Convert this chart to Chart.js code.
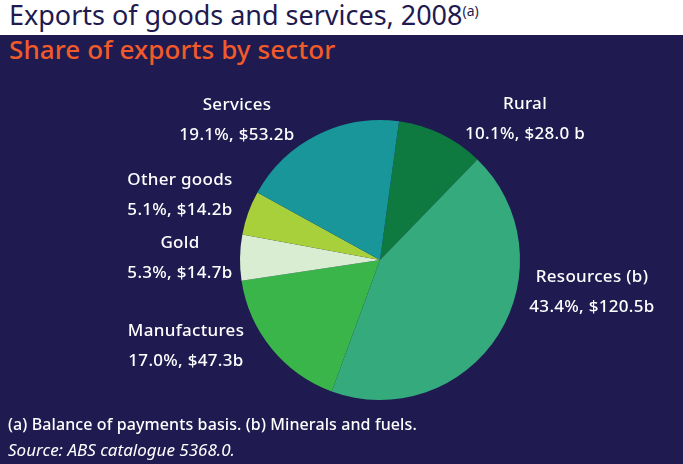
<!DOCTYPE html>
<html>
<head>
<meta charset="utf-8">
<script src="https://cdn.jsdelivr.net/npm/chart.js@4"></script>
<style>
  html, body { margin: 0; padding: 0; }
  body { width: 683px; height: 464px; overflow: hidden; background: #1f1a50; position: relative; font-family: "Noto Sans", sans-serif; }
  #band { position: absolute; left: 0; top: 0; width: 683px; height: 35px; background: #fff; }
  #title { position: absolute; left: 9px; top: -3px; font-size: 27px; line-height: 36px; letter-spacing: -0.02px; color: #1f1a50; white-space: nowrap; }
  #title sup { font-size: 14px; line-height: 0; position: relative; top: 1px; vertical-align: super; letter-spacing: 0; }
  #subtitle { position: absolute; left: 9px; top: 31px; font-size: 26px; line-height: 36px; font-weight: 500; letter-spacing: 0.1px; color: #f15a29; white-space: nowrap; }
  #wrap { position: absolute; left: 0; top: 0; width: 683px; height: 464px; }
  .lbl { position: absolute; width: 200px; margin-left: -100px; text-align: center; color: #fff; font-size: 17px; font-weight: 500; letter-spacing: 0.3px; line-height: 30px; white-space: nowrap; }
  #note { position: absolute; left: 8px; top: 412px; color: #fff; font-size: 16px; font-weight: 500; letter-spacing: 0.1px; line-height: 25px; white-space: nowrap; }
  #note i { display: block; font-size: 17px; font-weight: 400; letter-spacing: 0; }
</style>
</head>
<body>
<div id="band"></div>
<div id="title">Exports of goods and services, 2008<sup>(a)</sup></div>
<div id="subtitle">Share of exports by sector</div>
<div id="wrap"><canvas id="pie" width="683" height="464"></canvas></div>
<div id="labels"></div>
<div id="note">(a) Balance of payments basis. (b) Minerals and fuels.<i>Source: ABS catalogue 5368.0.</i></div>
<script>
// 数据
const categories = ['Rural', 'Resources (b)', 'Manufactures', 'Gold', 'Other goods', 'Services'];
const billions = [28.0, 120.5, 47.3, 14.7, 14.2, 53.2];
const valueLabels = ['10.1%, $28.0 b', '43.4%, $120.5b', '17.0%, $47.3b', '5.3%, $14.7b', '5.1%, $14.2b', '19.1%, $53.2b'];
const colours = ['#0f7a40', '#35aa7c', '#3ab54a', '#d9edd2', '#a8d03a', '#189699'];

// label centre x and top y, same order as categories
const labelX = [525, 592, 186, 180, 180, 237];
const labelY = [88, 261, 315, 227, 164, 89];

new Chart(document.getElementById('pie'), {
    type: 'pie',
    data: {
        labels: categories,
        datasets: [{
            data: billions,
            backgroundColor: colours,
            borderWidth: 0
        }]
    },
    options: {
        responsive: false,
        animation: false,
        rotation: 7.8,
        layout: { padding: { left: 240, right: 163, top: 120, bottom: 64 } },
        plugins: {
            legend: { display: false },
            tooltip: { enabled: false }
        }
    }
});

const holder = document.getElementById('labels');
categories.forEach((name, i) => {
    const el = document.createElement('div');
    el.className = 'lbl';
    el.style.left = labelX[i] + 'px';
    el.style.top = labelY[i] + 'px';
    el.innerHTML = name + '<br>' + valueLabels[i];
    holder.appendChild(el);
});
</script>
</body>
</html>
